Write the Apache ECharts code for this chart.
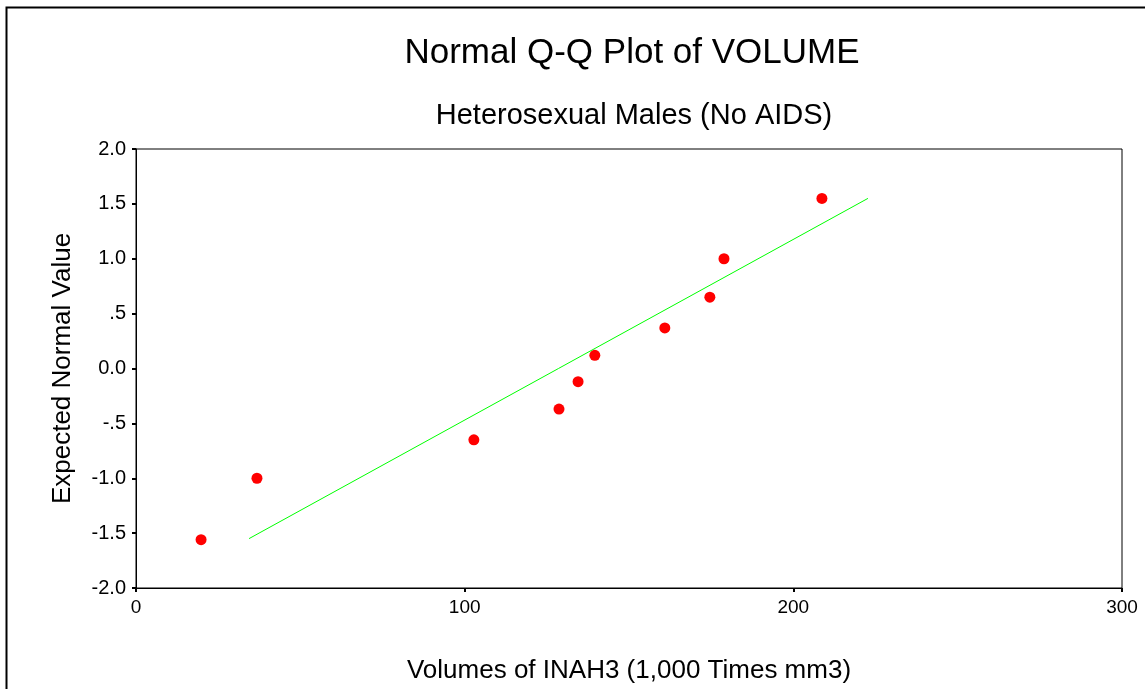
<!DOCTYPE html>
<html>
<head>
<meta charset="UTF-8">
<title>Normal Q-Q Plot of VOLUME</title>
<script src="https://cdn.jsdelivr.net/npm/echarts@6/dist/echarts.min.js"></script>
<style>
    html, body { margin: 0; padding: 0; background: #fff; }
    #main { width: 1145px; height: 689px; }
</style>
</head>
<body>
<div id="main"></div>
<script>
    // observed volumes (x) and expected normal values (y)
    var volumes = [19.8, 36.8, 102.8, 128.7, 134.5, 139.6, 160.9, 174.6, 178.9, 208.7];
    var expected = [-1.56, -1.00, -0.65, -0.37, -0.12, 0.12, 0.37, 0.65, 1.00, 1.55];
    // reference line endpoints
    var lineX = [34.4, 222.7];
    var lineY = [-1.55, 1.55];
    // y tick labels as printed
    var yTicks = [-2, -1.5, -1, -0.5, 0, 0.5, 1, 1.5, 2];
    var yTickLabels = ['-2.0', '-1.5', '-1.0', '-.5', '0.0', '.5', '1.0', '1.5', '2.0'];

    var points = [];
    for (var i = 0; i < volumes.length; i++) {
        points.push([volumes[i], expected[i]]);
    }
    var linePts = [];
    for (var j = 0; j < lineX.length; j++) {
        linePts.push([lineX[j], lineY[j]]);
    }

    var font = 'Liberation Sans, Arial, sans-serif';
    var myChart = echarts.init(document.getElementById('main'));
    var option = {
        backgroundColor: '#fff',
        animation: false,
        title: [
            {
                text: 'Normal Q-Q Plot of VOLUME',
                left: 627, top: 31, textAlign: 'center',
                textStyle: { fontFamily: font, fontSize: 35, fontWeight: 'normal', color: '#000' }
            },
            {
                text: 'Heterosexual Males (No AIDS)',
                left: 629, top: 96, textAlign: 'center',
                textStyle: { fontFamily: font, fontSize: 29, fontWeight: 'normal', color: '#000' }
            }
        ],
        graphic: [{
            type: 'rect',
            shape: { x: 6.5, y: 7.5, width: 1300, height: 800 },
            style: { fill: 'none', stroke: '#000', lineWidth: 2 },
            silent: true
        }],
        grid: {
            left: 136, top: 149, right: 23, bottom: 100,
            show: true, borderColor: '#000', borderWidth: 1
        },
        xAxis: {
            type: 'value',
            min: 0, max: 300, interval: 100,
            name: 'Volumes of INAH3 (1,000 Times mm3)',
            nameLocation: 'middle', nameGap: 70,
            nameTextStyle: { fontFamily: font, fontSize: 26, color: '#000' },
            axisLine: { show: true, onZero: false, lineStyle: { color: '#000', width: 1 } },
            axisTick: { show: true, length: 4, lineStyle: { color: '#000', width: 2 } },
            axisLabel: { fontFamily: font, fontSize: 19, color: '#000', margin: 10 },
            splitLine: { show: false }
        },
        yAxis: {
            type: 'value',
            min: -2, max: 2, interval: 0.5,
            name: 'Expected Normal Value',
            nameLocation: 'middle', nameGap: 60,
            nameTextStyle: { fontFamily: font, fontSize: 26, color: '#000' },
            axisLine: { show: true, onZero: false, lineStyle: { color: '#000', width: 1 } },
            axisTick: { show: true, length: 4, lineStyle: { color: '#000', width: 2 } },
            axisLabel: {
                fontFamily: font, fontSize: 20, color: '#000', margin: 10,
                formatter: function (v) {
                    var k = yTicks.indexOf(Math.round(v * 10) / 10);
                    return k >= 0 ? yTickLabels[k] : String(v);
                }
            },
            splitLine: { show: false }
        },
        series: [
            {
                type: 'line',
                data: linePts,
                symbol: 'none',
                lineStyle: { color: '#00ff00', width: 1 },
                silent: true
            },
            {
                type: 'scatter',
                data: points,
                symbolSize: 11,
                itemStyle: { color: '#ff0000', opacity: 1 }
            }
        ]
    };
    myChart.setOption(option);
</script>
</body>
</html>
